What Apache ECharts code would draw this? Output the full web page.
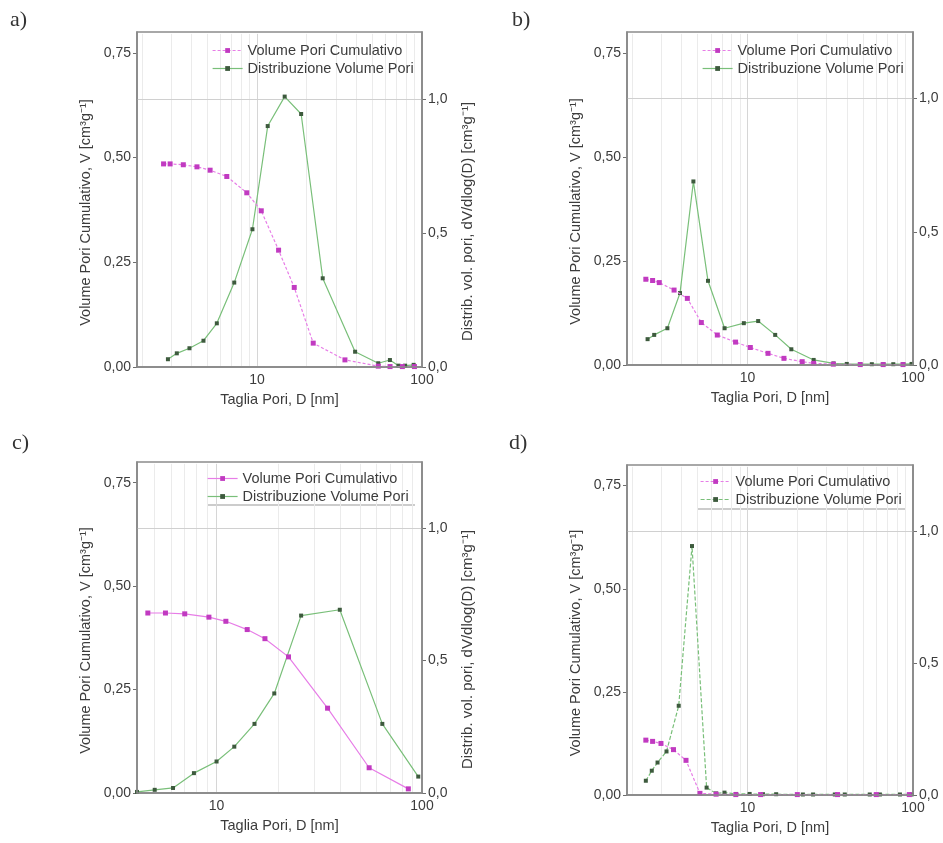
<!DOCTYPE html>
<html>
<head>
<meta charset="utf-8">
<script src="https://cdn.jsdelivr.net/npm/echarts@6/dist/echarts.min.js"></script>
<style>
html,body{margin:0;padding:0;background:#ffffff;}
#chart{width:943px;height:843px;}
</style>
</head>
<body>
<div id="chart"></div>
<script>
// Pore size (nm) and volumes for the four samples a) - d)
const aCumD  = [2.71, 2.97, 3.57, 4.32, 5.19, 6.55, 8.66, 10.6, 13.5, 16.8, 21.9, 34.1, 54.3, 64, 76, 90];
const aCumV  = [0.485, 0.485, 0.483, 0.478, 0.470, 0.455, 0.416, 0.373, 0.279, 0.190, 0.057, 0.017, 0.002, 0.001, 0.001, 0.001];
const aDistD = [2.88, 3.26, 3.89, 4.73, 5.70, 7.27, 9.37, 11.6, 14.7, 18.5, 25.0, 39.3, 54.3, 63.9, 72, 79, 89];
const aDistV = [0.029, 0.051, 0.070, 0.098, 0.163, 0.315, 0.514, 0.899, 1.009, 0.944, 0.331, 0.057, 0.014, 0.026, 0.005, 0.005, 0.008];

const bCumD  = [2.43, 2.67, 2.93, 3.60, 4.33, 5.26, 6.57, 8.47, 10.4, 13.3, 16.6, 21.4, 25.1, 33, 48, 66, 87];
const bCumV  = [0.206, 0.203, 0.198, 0.180, 0.160, 0.102, 0.072, 0.055, 0.042, 0.028, 0.016, 0.008, 0.004, 0.002, 0.001, 0.001, 0.001];
const bDistD = [2.49, 2.73, 3.28, 3.91, 4.71, 5.77, 7.27, 9.50, 11.6, 14.7, 18.4, 25.1, 33.1, 39.8, 47.9, 56.4, 66.2, 76.0, 87.4, 98];
const bDistV = [0.097, 0.113, 0.138, 0.270, 0.689, 0.316, 0.138, 0.157, 0.165, 0.113, 0.059, 0.019, 0.006, 0.004, 0.003, 0.003, 0.003, 0.003, 0.003, 0.004];

const cCumD  = [4.63, 5.64, 7.00, 9.18, 11.1, 14.1, 17.2, 22.4, 34.7, 55.3, 85.8];
const cCumV  = [0.435, 0.435, 0.433, 0.425, 0.415, 0.395, 0.373, 0.329, 0.205, 0.061, 0.010];
const cDistD = [4.1, 5.0, 6.14, 7.76, 10.0, 12.2, 15.3, 19.1, 25.8, 39.8, 64.1, 95.9];
const cDistV = [0.004, 0.012, 0.019, 0.075, 0.119, 0.175, 0.261, 0.376, 0.670, 0.692, 0.261, 0.062];

const dCumD  = [2.43, 2.67, 3.00, 3.57, 4.25, 5.16, 6.46, 8.5, 12, 20, 35, 60, 95];
const dCumV  = [0.133, 0.130, 0.125, 0.110, 0.084, 0.004, 0.002, 0.001, 0.001, 0.001, 0.001, 0.001, 0.001];
const dDistD = [2.43, 2.64, 2.86, 3.24, 3.84, 4.62, 5.66, 6.46, 7.26, 8.53, 10.3, 12.4, 14.9, 21.6, 24.9, 33.7, 38.7, 54.8, 63.1, 83.4, 98];
const dDistV = [0.054, 0.092, 0.123, 0.165, 0.338, 0.943, 0.028, 0.006, 0.009, 0.004, 0.004, 0.003, 0.003, 0.002, 0.002, 0.002, 0.002, 0.002, 0.002, 0.002, 0.002];

// Axis ticks
const leftTicks   = [0, 0.25, 0.5, 0.75];
const rightTicks  = [0, 0.5, 1.0];
const decadeTicks = [10, 100];
const minorGrid   = [2, 3, 4, 5, 6, 7, 8, 9, 20, 30, 40, 50, 60, 70, 80, 90];
const rightGridAt = [1.0];

const NAME_CUM  = 'Volume Pori Cumulativo';
const NAME_DIST = 'Distribuzione Volume Pori';
const TITLE_X = 'Taglia Pori, D [nm]';
const TITLE_L = 'Volume Pori Cumulativo, V [cm³g⁻¹]';
const TITLE_R = 'Distrib. vol. pori, dV/dlog(D) [cm³g⁻¹]';

const FONT = 'Liberation Sans, Arial, sans-serif';
const TXT = '#3c3c3c';
const MAGENTA_LINE = '#e77de7';
const MAGENTA_DOT = '#c13ac1';
const GREEN_LINE = '#79bf79';
const GREEN_DOT = '#3d5a3d';

const panels = [
  { tag: 'a)', cumD: aCumD, cumV: aCumV, distD: aDistD, distV: aDistV,
    grid: { left: 137, top: 32, width: 285, height: 335 }, xmin: 1.87,
    cumDash: [3, 2], distDash: 'solid', rightTitle: true,
    legend: { left: 212, top: 43 }, tagPos: [10, 9], legendRule: false },
  { tag: 'b)', cumD: bCumD, cumV: bCumV, distD: bDistD, distV: bDistV,
    grid: { left: 627, top: 32, width: 286, height: 333 }, xmin: 1.87,
    cumDash: [3, 2], distDash: 'solid', rightTitle: false,
    legend: { left: 702, top: 43 }, tagPos: [512, 9], legendRule: false },
  { tag: 'c)', cumD: cCumD, cumV: cCumV, distD: cDistD, distV: cDistV,
    grid: { left: 137, top: 462, width: 285, height: 331 }, xmin: 4.1,
    cumDash: 'solid', distDash: 'solid', rightTitle: true,
    legend: { left: 207, top: 471 }, tagPos: [12, 432], legendRule: [207, 505, 415] },
  { tag: 'd)', cumD: dCumD, cumV: dCumV, distD: dDistD, distV: dDistV,
    grid: { left: 627, top: 465, width: 286, height: 330 }, xmin: 1.87,
    cumDash: [3, 2], distDash: [4, 2], rightTitle: false,
    legend: { left: 700, top: 474 }, tagPos: [509, 432], legendRule: [698, 509, 905] }
];

const near = (v, list) => list.some(t => Math.abs(t - v) < 1e-6);
const pairs = (xs, ys) => xs.map((x, i) => [x, ys[i]]);

const option = {
  animation: false,
  backgroundColor: '#ffffff',
  textStyle: { fontFamily: FONT },
  grid: [], xAxis: [], yAxis: [], series: [], legend: [], graphic: []
};

panels.forEach((p, i) => {
  option.grid.push(Object.assign({ show: true, borderColor: '#8c8c8c', borderWidth: 1.5, backgroundColor: 'transparent', z: 5 }, p.grid));

  option.xAxis.push({
    type: 'log', logBase: 10, gridIndex: i, min: p.xmin, max: 100,
    name: TITLE_X, nameLocation: 'middle', nameGap: 25,
    nameTextStyle: { fontSize: 14.5, color: TXT, fontFamily: FONT },
    axisLine: { show: true, onZero: false, lineStyle: { color: '#6e6e6e', width: 1.5 } },
    axisTick: { show: false },
    minorTick: { show: false },
    axisLabel: { fontSize: 14, color: TXT, margin: 6, fontFamily: FONT, customValues: decadeTicks,
      formatter: v => near(v, decadeTicks) ? String(Math.round(v)) : '' },
    splitLine: { show: false },
    minorSplitLine: { show: false }
  });

  option.yAxis.push({
    type: 'value', gridIndex: i, position: 'left', min: 0, max: 0.8, interval: 0.25,
    name: TITLE_L, nameLocation: 'middle', nameGap: 44, nameRotate: 90,
    nameTextStyle: { fontSize: 14.5, color: TXT, fontFamily: FONT, padding: [0, 26, 0, 0] },
    axisLine: { show: true, lineStyle: { color: '#6e6e6e', width: 1.5 } },
    axisTick: { show: true, length: 4, customValues: leftTicks, lineStyle: { color: '#6e6e6e' } },
    axisLabel: { fontSize: 14, color: TXT, margin: 6, fontFamily: FONT, customValues: leftTicks,
      formatter: v => near(v, leftTicks) ? v.toFixed(2).replace('.', ',') : '' },
    splitLine: { show: false }
  });

  option.yAxis.push({
    type: 'value', gridIndex: i, position: 'right', min: 0, max: 1.25, interval: 0.5,
    name: p.rightTitle ? TITLE_R : '', nameLocation: 'middle', nameGap: 38, nameRotate: 90,
    nameTextStyle: { fontSize: 15, color: TXT, fontFamily: FONT, padding: [0, 44, 0, 0] },
    axisLine: { show: true, lineStyle: { color: '#6e6e6e', width: 1.5 } },
    axisTick: { show: true, length: 4, customValues: rightTicks, lineStyle: { color: '#6e6e6e' } },
    axisLabel: { fontSize: 14, color: TXT, margin: 6, fontFamily: FONT, customValues: rightTicks,
      formatter: v => near(v, rightTicks) ? v.toFixed(1).replace('.', ',') : '' },
    splitLine: { show: false }
  });

  // light vertical lines at the log sub-decades, kept just inside the frame
  const gridLines = minorGrid.filter(v => v > p.xmin && v < 100).map(v => ([
    { coord: [v, 0.004], lineStyle: { color: '#ebebeb', width: 1, type: 'solid' } },
    { coord: [v, 1.243] }
  ]));
  gridLines.push([
    { coord: [10, 0.004], lineStyle: { color: '#d6d6d6', width: 1, type: 'solid' } },
    { coord: [10, 1.243] }
  ]);
  rightGridAt.forEach(v => gridLines.push({ yAxis: v, lineStyle: { color: '#d0d0d0', width: 1, type: 'solid' } }));

  option.series.push({
    name: NAME_DIST, type: 'line', xAxisIndex: i, yAxisIndex: 2 * i + 1,
    data: pairs(p.distD, p.distV),
    symbol: 'rect', symbolSize: 4, showSymbol: true,
    lineStyle: { color: GREEN_LINE, width: 1.2, type: p.distDash },
    itemStyle: { color: GREEN_DOT },
    z: 3,
    markLine: { silent: true, symbol: 'none', label: { show: false }, animation: false, data: gridLines, z: 1 }
  });

  option.series.push({
    name: NAME_CUM, type: 'line', xAxisIndex: i, yAxisIndex: 2 * i,
    data: pairs(p.cumD, p.cumV),
    symbol: 'rect', symbolSize: 5, showSymbol: true,
    lineStyle: { color: MAGENTA_LINE, width: 1.2, type: p.cumDash },
    itemStyle: { color: MAGENTA_DOT },
    z: 4
  });

  option.legend.push({
    orient: 'vertical', left: p.legend.left, top: p.legend.top, padding: 0,
    itemWidth: 30, itemHeight: 6, itemGap: 3,
    textStyle: { fontSize: 14.5, color: TXT, fontFamily: FONT },
    selectedMode: false,
    data: [
      { name: NAME_CUM, itemStyle: { color: MAGENTA_DOT }, lineStyle: { color: MAGENTA_LINE, type: p.cumDash, width: 1.2 } },
      { name: NAME_DIST, itemStyle: { color: GREEN_DOT }, lineStyle: { color: GREEN_LINE, type: p.distDash, width: 1.2 } }
    ]
  });

  option.graphic.push({
    type: 'text', left: p.tagPos[0], top: p.tagPos[1],
    style: { text: p.tag, font: '22px "Liberation Serif", "Times New Roman", serif', fill: '#333333' }
  });

  if (p.legendRule) {
    const r = p.legendRule;
    option.graphic.push({
      type: 'line', shape: { x1: r[0], y1: r[1], x2: r[2], y2: r[1] },
      style: { stroke: '#9a9a9a', lineWidth: 1.2 }
    });
  }
});

const chart = echarts.init(document.getElementById('chart'), null, { renderer: 'canvas' });
chart.setOption(option);
</script>
</body>
</html>
